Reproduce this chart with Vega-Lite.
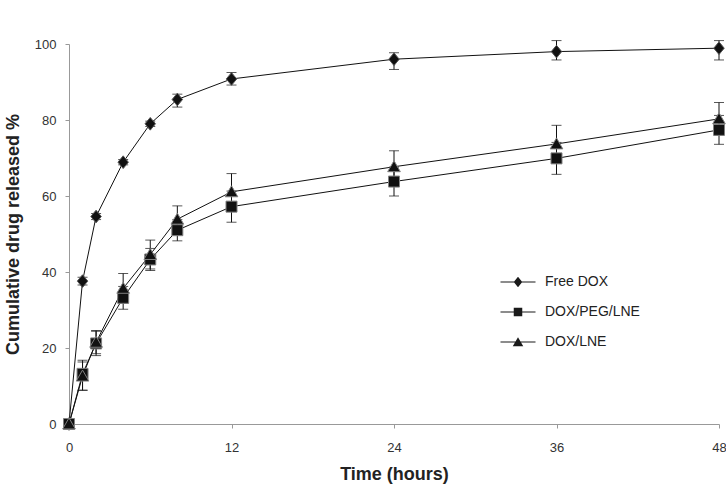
{
  "$schema": "https://vega.github.io/schema/vega-lite/v6.json",
  "width": 650,
  "height": 380,
  "autosize": {"type": "none"},
  "padding": {"left": 69, "top": 44, "right": 7, "bottom": 64},
  "background": "white",
  "config": {
    "view": {"stroke": null},
    "font": "Liberation Sans",
    "axis": {
      "grid": false,
      "labelFlush": false,
      "domainColor": "#999999",
      "tickColor": "#999999",
      "labelColor": "#333333",
      "labelFont": "Liberation Sans",
      "labelFontSize": 13,
      "titleFont": "Liberation Sans",
      "titleFontSize": 18,
      "titleFontWeight": "bold",
      "titleColor": "#222222"
    }
  },
  "data": {
    "values": [
      {"series": "Free DOX", "t": 0, "v": 0, "lo": 0, "hi": 0},
      {"series": "Free DOX", "t": 1, "v": 37.6, "lo": 36.6, "hi": 38.6},
      {"series": "Free DOX", "t": 2, "v": 54.6, "lo": 53.8, "hi": 55.4},
      {"series": "Free DOX", "t": 4, "v": 68.9, "lo": 68.2, "hi": 69.6},
      {"series": "Free DOX", "t": 6, "v": 79.0, "lo": 78.3, "hi": 79.7},
      {"series": "Free DOX", "t": 8, "v": 85.4, "lo": 83.4, "hi": 86.8},
      {"series": "Free DOX", "t": 12, "v": 90.8, "lo": 89.2, "hi": 92.5},
      {"series": "Free DOX", "t": 24, "v": 96.0, "lo": 93.3, "hi": 97.7},
      {"series": "Free DOX", "t": 36, "v": 98.0, "lo": 95.8, "hi": 100.9},
      {"series": "Free DOX", "t": 48, "v": 98.9, "lo": 95.8, "hi": 100.9},
      {"series": "DOX/PEG/LNE", "t": 0, "v": 0, "lo": 0, "hi": 0},
      {"series": "DOX/PEG/LNE", "t": 1, "v": 13.2, "lo": 8.9, "hi": 16.8},
      {"series": "DOX/PEG/LNE", "t": 2, "v": 21.2, "lo": 18.0, "hi": 24.4},
      {"series": "DOX/PEG/LNE", "t": 4, "v": 33.2, "lo": 30.2, "hi": 36.2},
      {"series": "DOX/PEG/LNE", "t": 6, "v": 43.3, "lo": 40.4, "hi": 46.2},
      {"series": "DOX/PEG/LNE", "t": 8, "v": 51.0, "lo": 48.2, "hi": 53.8},
      {"series": "DOX/PEG/LNE", "t": 12, "v": 57.2, "lo": 53.1, "hi": 61.3},
      {"series": "DOX/PEG/LNE", "t": 24, "v": 63.8, "lo": 60.0, "hi": 67.6},
      {"series": "DOX/PEG/LNE", "t": 36, "v": 69.9, "lo": 65.7, "hi": 74.1},
      {"series": "DOX/PEG/LNE", "t": 48, "v": 77.4, "lo": 73.6, "hi": 81.2},
      {"series": "DOX/LNE", "t": 0, "v": 0, "lo": 0, "hi": 0},
      {"series": "DOX/LNE", "t": 1, "v": 12.6, "lo": 8.9, "hi": 16.3},
      {"series": "DOX/LNE", "t": 2, "v": 21.5, "lo": 18.5, "hi": 24.6},
      {"series": "DOX/LNE", "t": 4, "v": 35.7, "lo": 31.8, "hi": 39.6},
      {"series": "DOX/LNE", "t": 6, "v": 44.6, "lo": 40.8, "hi": 48.4},
      {"series": "DOX/LNE", "t": 8, "v": 53.9, "lo": 50.4, "hi": 57.4},
      {"series": "DOX/LNE", "t": 12, "v": 61.1, "lo": 56.3, "hi": 65.9},
      {"series": "DOX/LNE", "t": 24, "v": 67.7, "lo": 63.5, "hi": 71.9},
      {"series": "DOX/LNE", "t": 36, "v": 73.7, "lo": 68.8, "hi": 78.6},
      {"series": "DOX/LNE", "t": 48, "v": 80.3, "lo": 76.0, "hi": 84.6}
    ]
  },
  "encoding": {
    "x": {
      "field": "t",
      "type": "quantitative",
      "title": "Time (hours)",
      "scale": {"domain": [0, 48], "nice": false, "padding": 0},
      "axis": {"values": [0, 12, 24, 36, 48], "tickSize": 4, "labelPadding": 13, "titlePadding": 11}
    },
    "y": {
      "field": "v",
      "type": "quantitative",
      "title": "Cumulative drug released %",
      "scale": {"domain": [0, 100], "nice": false},
      "axis": {"values": [0, 20, 40, 60, 80, 100], "tickSize": 4, "labelPadding": 9, "titlePadding": 12}
    }
  },
  "layer": [
    {
      "mark": {"type": "line", "color": "#111111", "strokeWidth": 1},
      "encoding": {"detail": {"field": "series"}}
    },
    {
      "mark": {"type": "errorbar", "color": "#111111", "thickness": 1, "ticks": {"size": 10, "color": "#111111"}},
      "encoding": {
        "y": {"field": "lo", "type": "quantitative", "title": "Cumulative drug released %"},
        "y2": {"field": "hi"},
        "detail": {"field": "series"}
      }
    },
    {
      "transform": [{"filter": "datum.series === 'Free DOX'"}],
      "mark": {"type": "point", "shape": "M0,-1.15L0.95,0L0,1.15L-0.95,0Z", "filled": true, "fill": "#111111", "stroke": "#555555", "strokeWidth": 1, "opacity": 1, "size": 121}
    },
    {
      "transform": [{"filter": "datum.series === 'DOX/PEG/LNE'"}],
      "mark": {"type": "point", "shape": "square", "filled": true, "fill": "#111111", "stroke": "#808080", "strokeWidth": 1, "opacity": 1, "size": 121}
    },
    {
      "transform": [{"filter": "datum.series === 'DOX/LNE'"}],
      "mark": {"type": "point", "shape": "M0,-1.1L1.15,0.9L-1.15,0.9Z", "filled": true, "fill": "#111111", "stroke": "#808080", "strokeWidth": 1, "opacity": 1, "size": 121}
    },
    {
      "mark": {"type": "point", "filled": true, "fill": "#1a1a1a", "stroke": "#1a1a1a", "strokeWidth": 0, "opacity": 0, "size": 100},
      "encoding": {
        "shape": {
          "field": "series",
          "type": "nominal",
          "scale": {
            "domain": ["Free DOX", "DOX/PEG/LNE", "DOX/LNE"],
            "range": [
              "M-3.5,-0.1L3.5,-0.1L3.5,0.1L-3.5,0.1ZM0,-1.05L0.85,0L0,1.05L-0.85,0Z",
              "M-3.5,-0.1L3.5,-0.1L3.5,0.1L-3.5,0.1ZM-0.85,-0.85L0.85,-0.85L0.85,0.85L-0.85,0.85Z",
              "M-3.5,-0.1L3.5,-0.1L3.5,0.1L-3.5,0.1ZM0,-0.95L1.05,0.85L-1.05,0.85Z"
            ]
          },
          "legend": {
            "orient": "none",
            "legendX": 442,
            "legendY": 231,
            "title": null,
            "padding": 0,
            "symbolSize": 100,
            "labelOffset": 20,
            "labelFontSize": 14,
            "labelColor": "#222222",
            "labelFont": "Liberation Sans",
            "rowPadding": 16,
            "symbolOpacity": 1,
            "symbolFillColor": "#1a1a1a",
            "symbolStrokeColor": "#1a1a1a",
            "symbolStrokeWidth": 0
          }
        }
      }
    }
  ]
}
